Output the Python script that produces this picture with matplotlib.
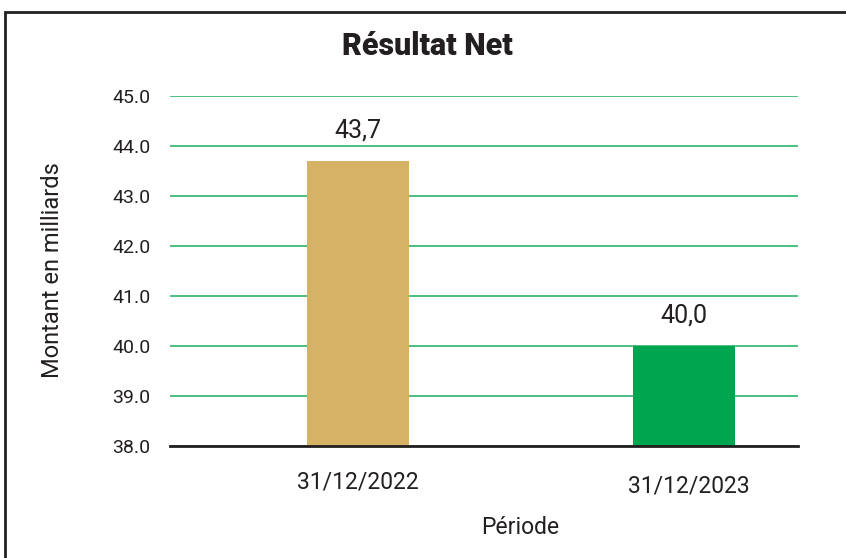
import matplotlib.pyplot as plt
import matplotlib.transforms as mtransforms
from matplotlib.patches import Rectangle

periodes = ["31/12/2022", "31/12/2023"]
resultat = [43.7, 40.0]
etiquettes = ["43,7", "40,0"]
couleurs = ["#D5B266", "#00A54F"]
yticks = [38.0, 39.0, 40.0, 41.0, 42.0, 43.0, 44.0, 45.0]

W, H = 846, 558
plt.rcParams['font.family'] = ['Roboto', 'DejaVu Sans']
fig = plt.figure(figsize=(W / 100, H / 100), dpi=100)

# axes placed in pixel terms
ax = fig.add_axes([170 / W, (H - 446) / H, (798 - 170) / W, (446 - 96) / H])
x = list(range(len(periodes)))
ax.bar(x, [v - 38.0 for v in resultat], bottom=38.0, width=0.313, color=couleurs, zorder=3)
for xi, v, lab in zip(x, resultat, etiquettes):
    ax.annotate(lab, (xi, v), xytext=(0, 13), textcoords="offset points",
                ha="center", va="bottom", fontsize=18, color="#231F20")

ax.set_xlim(-0.577, 1.35)
ax.set_ylim(38.0, 45.0)
ax.set_yticks(yticks)
ax.set_yticklabels([f"{t:.1f}" for t in yticks], fontsize=14, color="#231F20")
ax.set_xticks(x)
ax.set_xticklabels(periodes, fontsize=16.5, color="#231F20")
ax.tick_params(axis="y", length=0, pad=14)
ax.tick_params(axis="x", length=0, pad=18)
# second date label sits a little right and lower in the original
lbl = ax.get_xticklabels()[1]
lbl.set_transform(lbl.get_transform() + mtransforms.ScaledTranslation(5 / 100, -3 / 100, fig.dpi_scale_trans))
ax.grid(axis="y", color="#4DBE7E", linewidth=1.4, zorder=0)
ax.set_axisbelow(True)
for s in ["left", "right", "top"]:
    ax.spines[s].set_visible(False)
ax.spines["bottom"].set_color("#231F20")
ax.spines["bottom"].set_linewidth(2)
ax.spines["bottom"].set_zorder(4)

fig.text(427 / W, 1 - 46 / H, "Résultat Net", ha="center", va="center",
         fontsize=22, fontweight="black", color="#231F20")
fig.text(53 / W, 1 - 270 / H, "Montant en milliards", rotation=90, ha="center",
         va="center", fontsize=17, color="#231F20")
fig.text(520 / W, 1 - 527 / H, "Période", ha="center", va="center",
         fontsize=16.5, color="#231F20")

# outer frame, cut off at the bottom
fig.patches.append(Rectangle((5 / W, -0.1), 1.0, 1.1 - 12 / H, transform=fig.transFigure,
                             fill=False, edgecolor="#231F20", linewidth=2))

fig.savefig("out.png", dpi=100)
